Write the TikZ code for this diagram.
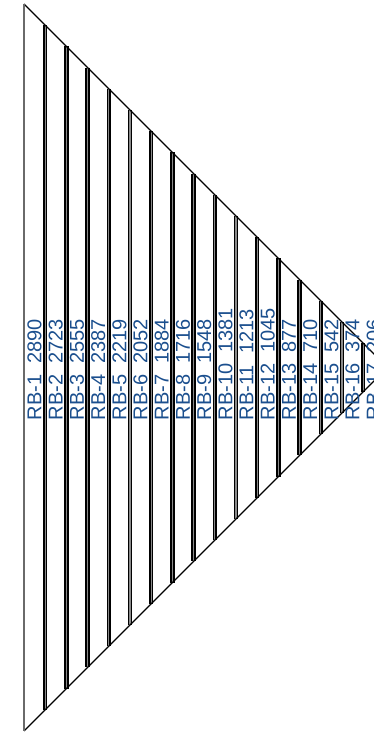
\documentclass[tikz,border=0pt]{standalone}
\usepackage{fontspec}
\setmainfont{Liberation Sans}
\usetikzlibrary{calc}
\definecolor{rbblue}{HTML}{1B4F8E}
\definecolor{rbgrey}{HTML}{6A6A6A}
\definecolor{rbmid}{HTML}{8A8A8A}
\tikzset{
  rbedge/.style={draw=black, line width=1.3pt},
  rbside/.style={draw=rbgrey, line width=1.6pt},
  rbbar/.style={draw=black, line width=1.6pt, double=rbmid, double distance=1.1pt},
  rblabel/.style={rotate=90, anchor=west, inner sep=0pt, text=rbblue,
                  font=\fontsize{20}{24}\selectfont},
}
\begin{document}
\begin{tikzpicture}[x=1pt,y=1pt]
  \useasboundingbox (0,0) rectangle (374,732);
  \clip (0,0) rectangle (374,732);
  \coordinate (top) at (24,728);
  \coordinate (bot) at (24,1);
  \coordinate (tip) at (387.5,364.5);
  % bars between the two slanted sides
  \foreach \k in {1,...,16} {
    \pgfmathsetmacro{\bx}{24+21.2*\k}
    \draw[rbbar] (\bx,{728-(\bx-24)}) -- (\bx,{1+(\bx-24)});
  }
  \draw[rbedge] (top) -- (tip) -- (bot);
  \draw[rbside] (bot) -- (top);
  % labels
  \foreach \k/\v in {1/2890,2/2723,3/2555,4/2387,5/2219,6/2052,7/1884,8/1716,
                     9/1548,10/1381,11/1213,12/1045,13/877,14/710,15/542,16/374,17/206} {
    \node[rblabel] (rb\k) at ({24+21.2*(\k-0.5)},311.5) {RB-\k\ \ \v};
  }
\end{tikzpicture}
\end{document}
